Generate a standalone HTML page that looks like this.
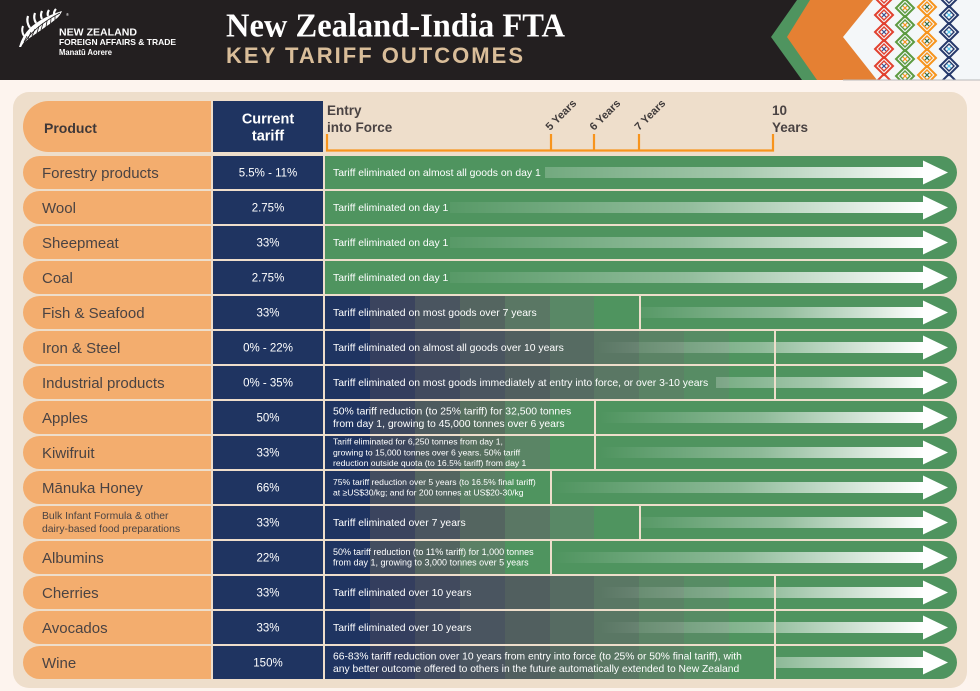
<!DOCTYPE html>
<html><head><meta charset="utf-8"><style>
html,body{margin:0;padding:0;background:#fdf4ee;}
svg{display:block;}
.p{font-family:"Liberation Sans",sans-serif;font-size:15px;fill:#4a4343;}
.ps{font-family:"Liberation Sans",sans-serif;font-size:10.4px;fill:#4a4343;}
.t{font-family:"Liberation Sans",sans-serif;font-size:11.5px;fill:#fff;text-anchor:middle;}
.l{font-family:"Liberation Sans",sans-serif;font-size:10.4px;fill:#fff;}
.l2{font-family:"Liberation Sans",sans-serif;font-size:10.3px;fill:#fff;}
.ls{font-family:"Liberation Sans",sans-serif;font-size:8.6px;fill:#fff;}
.hd{font-family:"Liberation Sans",sans-serif;font-weight:bold;font-size:13.5px;fill:#4a4343;}
.yr{font-family:"Liberation Sans",sans-serif;font-weight:bold;font-size:11px;fill:#3f3a3a;}
</style></head><body>
<svg width="980" height="691" viewBox="0 0 980 691" xmlns="http://www.w3.org/2000/svg">
<defs>
<linearGradient id="gA"><stop offset="0" stop-color="#fff" stop-opacity="0.05"/><stop offset="0.5" stop-color="#fff" stop-opacity="0.38"/><stop offset="0.8" stop-color="#fff" stop-opacity="0.74"/><stop offset="1" stop-color="#fff" stop-opacity="1"/></linearGradient>
<linearGradient id="gB"><stop offset="0" stop-color="#fff" stop-opacity="0.2"/><stop offset="0.5" stop-color="#fff" stop-opacity="0.48"/><stop offset="0.8" stop-color="#fff" stop-opacity="0.78"/><stop offset="1" stop-color="#fff" stop-opacity="1"/></linearGradient>
<linearGradient id="gC"><stop offset="0" stop-color="#fff" stop-opacity="0"/><stop offset="0.5" stop-color="#fff" stop-opacity="0.36"/><stop offset="0.8" stop-color="#fff" stop-opacity="0.74"/><stop offset="1" stop-color="#fff" stop-opacity="1"/></linearGradient>
<linearGradient id="gD"><stop offset="0" stop-color="#fff" stop-opacity="0.22"/><stop offset="0.5" stop-color="#fff" stop-opacity="0.5"/><stop offset="0.8" stop-color="#fff" stop-opacity="0.8"/><stop offset="1" stop-color="#fff" stop-opacity="1"/></linearGradient>
<linearGradient id="gE"><stop offset="0" stop-color="#fff" stop-opacity="0.35"/><stop offset="0.5" stop-color="#fff" stop-opacity="0.62"/><stop offset="0.8" stop-color="#fff" stop-opacity="0.86"/><stop offset="1" stop-color="#fff" stop-opacity="1"/></linearGradient>
<clipPath id="wclip"><polygon points="873,0 980,0 980,80 877,80 843,37"/></clipPath>
<g id="base">
<rect x="23" y="0" width="188" height="33" rx="16.5" fill="#f3ad6e"/><rect x="190" y="0" width="21" height="33" fill="#f3ad6e"/>
<rect x="213" y="0" width="110" height="33" fill="#1f3461"/>
<rect x="325" y="0" width="632" height="33" rx="16.5" fill="#4f945f"/><rect x="325" y="0" width="40" height="33" fill="#4f945f"/>
</g>
<polygon id="ah" points="923,4.5 948,16.5 923,28.5" fill="#fff"/>
<g id="s10">
<rect x="325" y="0" width="45" height="33" fill="#1f3461"/><rect x="370" y="0" width="45" height="33" fill="#343e5e"/><rect x="415" y="0" width="45" height="33" fill="#414a5e"/><rect x="460" y="0" width="45" height="33" fill="#4a5560"/><rect x="505" y="0" width="45" height="33" fill="#515f5f"/><rect x="550" y="0" width="44" height="33" fill="#566b62"/><rect x="594" y="0" width="45" height="33" fill="#5a7764"/><rect x="639" y="0" width="45" height="33" fill="#5b8365"/><rect x="684" y="0" width="45" height="33" fill="#578c64"/><rect x="729" y="0" width="45" height="33" fill="#4f945f"/>
</g>
<g id="s7">
<rect x="325" y="0" width="45" height="33" fill="#1f3461"/><rect x="370" y="0" width="45" height="33" fill="#3b445e"/><rect x="415" y="0" width="45" height="33" fill="#4a5560"/><rect x="460" y="0" width="45" height="33" fill="#546560"/><rect x="505" y="0" width="45" height="33" fill="#5a7764"/><rect x="550" y="0" width="44" height="33" fill="#598866"/><rect x="594" y="0" width="45" height="33" fill="#4f945f"/>
</g>
<g id="s6">
<rect x="325" y="0" width="45" height="33" fill="#1f3461"/><rect x="370" y="0" width="45" height="33" fill="#3e485e"/><rect x="415" y="0" width="45" height="33" fill="#4e5b5f"/><rect x="460" y="0" width="45" height="33" fill="#58705f"/><rect x="505" y="0" width="45" height="33" fill="#5a8565"/><rect x="550" y="0" width="44" height="33" fill="#4f945f"/>
</g>
<g id="s5">
<rect x="325" y="0" width="45" height="33" fill="#1f3461"/><rect x="370" y="0" width="45" height="33" fill="#434d5f"/><rect x="415" y="0" width="45" height="33" fill="#546560"/><rect x="460" y="0" width="45" height="33" fill="#5b8065"/><rect x="505" y="0" width="45" height="33" fill="#4f945f"/>
</g>
</defs>

<rect width="980" height="691" fill="#fdf4ee"/>
<!-- header band -->
<rect width="980" height="80" fill="#231f20"/>
<polygon points="797,0 980,0 980,80 802,80 771,37" fill="#4f945f"/>
<polygon points="810,0 980,0 980,80 817,80 787,37" fill="#e58033"/>
<polygon points="873,0 980,0 980,80 877,80 843,37" fill="#f4f7f9"/>
<g clip-path="url(#wclip)" fill="none">
<g stroke="#e2412f" stroke-width="2">
<path d="M884 -11 L893 -2 L884 7 L875 -2 Z M884 6 L893 15 L884 24 L875 15 Z M884 23 L893 32 L884 41 L875 32 Z M884 40 L893 49 L884 58 L875 49 Z M884 57 L893 66 L884 75 L875 66 Z M884 74 L893 83 L884 92 L875 83 Z"/>
<path stroke-width="1.4" d="M884 10 L889 15 L884 20 L879 15 Z M884 27 L889 32 L884 37 L879 32 Z M884 44 L889 49 L884 54 L879 49 Z M884 61 L889 66 L884 71 L879 66 Z M884 -7 L889 -2 L884 3 L879 -2 Z"/>
</g>
<g stroke="#3b4f8f" stroke-width="1.2"><path d="M882 13 l4 4 m0 -4 l-4 4 M882 30 l4 4 m0 -4 l-4 4 M882 47 l4 4 m0 -4 l-4 4 M882 64 l4 4 m0 -4 l-4 4"/></g>
<g stroke="#5d9b41" stroke-width="2">
<path d="M905 -18 L914 -9 L905 0 L896 -9 Z M905 -1 L914 8 L905 17 L896 8 Z M905 16 L914 25 L905 34 L896 25 Z M905 33 L914 42 L905 51 L896 42 Z M905 50 L914 59 L905 68 L896 59 Z M905 67 L914 76 L905 85 L896 76 Z"/>
<path stroke-width="1.4" d="M905 3 L910 8 L905 13 L900 8 Z M905 20 L910 25 L905 30 L900 25 Z M905 37 L910 42 L905 47 L900 42 Z M905 54 L910 59 L905 64 L900 59 Z M905 71 L910 76 L905 81 L900 76 Z"/>
</g>
<g stroke="#f7941d" stroke-width="1.2"><path d="M903 6 l4 4 m0 -4 l-4 4 M903 23 l4 4 m0 -4 l-4 4 M903 40 l4 4 m0 -4 l-4 4 M903 57 l4 4 m0 -4 l-4 4 M903 74 l4 4 m0 -4 l-4 4"/></g>
<g stroke="#f7941d" stroke-width="2">
<path d="M927 -19 L936 -10 L927 -1 L918 -10 Z M927 -2 L936 7 L927 16 L918 7 Z M927 15 L936 24 L927 33 L918 24 Z M927 32 L936 41 L927 50 L918 41 Z M927 49 L936 58 L927 67 L918 58 Z M927 66 L936 75 L927 84 L918 75 Z"/>
<path stroke-width="1.4" d="M927 2 L932 7 L927 12 L922 7 Z M927 19 L932 24 L927 29 L922 24 Z M927 36 L932 41 L927 46 L922 41 Z M927 53 L932 58 L927 63 L922 58 Z M927 70 L932 75 L927 80 L922 75 Z"/>
</g>
<g stroke="#2d6b4a" stroke-width="1.2"><path d="M925 5 l4 4 m0 -4 l-4 4 M925 22 l4 4 m0 -4 l-4 4 M925 39 l4 4 m0 -4 l-4 4 M925 56 l4 4 m0 -4 l-4 4 M925 73 l4 4 m0 -4 l-4 4"/></g>
<g stroke="#26396b" stroke-width="2">
<path d="M949 -11 L958 -2 L949 7 L940 -2 Z M949 6 L958 15 L949 24 L940 15 Z M949 23 L958 32 L949 41 L940 32 Z M949 40 L958 49 L949 58 L940 49 Z M949 57 L958 66 L949 75 L940 66 Z M949 74 L958 83 L949 92 L940 83 Z"/>
<path stroke-width="1.4" d="M949 10 L954 15 L949 20 L944 15 Z M949 27 L954 32 L949 37 L944 32 Z M949 44 L954 49 L949 54 L944 49 Z M949 61 L954 66 L949 71 L944 66 Z M949 -7 L954 -2 L949 3 L944 -2 Z"/>
</g>
<g stroke="#57c5ec" stroke-width="1.2"><path d="M947 13 l4 4 m0 -4 l-4 4 M947 30 l4 4 m0 -4 l-4 4 M947 47 l4 4 m0 -4 l-4 4 M947 64 l4 4 m0 -4 l-4 4"/></g>
</g>
<rect x="843" y="79.5" width="137" height="1" fill="#b9b9b9"/>

<!-- logo fern -->
<path d="M19 47 Q22 36 30 28 Q42 17 62 11 Q60 16 56 19 Q50 24 44 28 Q37 33 31 37 Q25 41 21 47 Z" fill="#fff"/>
<path d="M30 28 Q26 22 28 16 M36 23 Q33 18 35 13 M42 19 Q40 15 42 11 M48 16 Q47 13 49 10 M54 14 Q54 11 56 9" stroke="#fff" stroke-width="2.2" fill="none"/>
<path d="M24 36 Q21 31 23 26" stroke="#fff" stroke-width="2" fill="none"/>
<g stroke="#231f20" stroke-width="0.8" fill="none">
<path d="M27 36 L24 42 M31 32 L28 39 M35 29 L32 36 M39 26 L37 33 M43 23 L41 30 M47 21 L46 27 M51 18.5 L50.5 24 M55 16 L55 21"/>
<path d="M22 46 Q33 27 60 13"/>
</g>
<text x="66" y="16" font-family="Liberation Sans" font-size="4" fill="#fff">®</text>
<text x="59" y="35.5" font-family="Liberation Sans" font-weight="bold" font-size="10.5" fill="#fff" textLength="78" lengthAdjust="spacingAndGlyphs">NEW ZEALAND</text>
<text x="59" y="45" font-family="Liberation Sans" font-weight="bold" font-size="8.3" fill="#fff" textLength="117" lengthAdjust="spacingAndGlyphs">FOREIGN AFFAIRS &amp; TRADE</text>
<text x="59" y="55" font-family="Liberation Sans" font-weight="bold" font-size="7.8" fill="#fff" textLength="53" lengthAdjust="spacingAndGlyphs">Manatū Aorere</text>

<!-- title -->
<text x="226" y="36.5" font-family="Liberation Serif" font-weight="bold" font-size="34" fill="#fff" textLength="339" lengthAdjust="spacingAndGlyphs">New Zealand-India FTA</text>
<text x="226" y="63" font-family="Liberation Sans" font-weight="bold" font-size="22" fill="#d9bd99" textLength="297" lengthAdjust="spacing">KEY TARIFF OUTCOMES</text>

<!-- panel -->
<rect x="13" y="92" width="954" height="596" rx="16" fill="#eedecb"/>

<!-- header row -->
<rect x="23" y="101" width="188" height="51" rx="25.5" fill="#f3ad6e"/><rect x="180" y="101" width="31" height="51" fill="#f3ad6e"/>
<rect x="213" y="101" width="110" height="51" fill="#1f3461"/>
<text x="44" y="133" font-family="Liberation Sans" font-weight="bold" font-size="14" fill="#3f3838">Product</text>
<text x="268" y="123.5" font-family="Liberation Sans" font-weight="bold" font-size="14.5" fill="#fff" text-anchor="middle">Current</text>
<text x="268" y="140.5" font-family="Liberation Sans" font-weight="bold" font-size="14.5" fill="#fff" text-anchor="middle">tariff</text>
<text x="327" y="115" class="hd">Entry</text>
<text x="327" y="132" class="hd">into Force</text>
<text x="772" y="115" class="hd">10</text>
<text x="772" y="132" class="hd">Years</text>
<text class="yr" transform="translate(550,131) rotate(-45)">5 Years</text>
<text class="yr" transform="translate(594,131) rotate(-45)">6 Years</text>
<text class="yr" transform="translate(639,131) rotate(-45)">7 Years</text>
<path d="M327 134 V150.5 H773 V134 M551 134 V150.5 M594 134 V150.5 M639 134 V150.5" stroke="#f7941d" stroke-width="2.2" fill="none"/>

<!-- Row 0 Forestry -->
<g transform="translate(0,156)">
<use href="#base"/>
<rect x="545" y="11" width="378" height="11" fill="url(#gB)"/>
<use href="#ah"/>
<text x="42" y="22" class="p">Forestry products</text>
<text x="268" y="20.5" class="t">5.5% - 11%</text>
<text x="333" y="20" class="l">Tariff eliminated on almost all goods on day 1</text>
</g>
<!-- Row 1 Wool -->
<g transform="translate(0,191)">
<use href="#base"/>
<rect x="450" y="11" width="473" height="11" fill="url(#gA)"/>
<use href="#ah"/>
<text x="42" y="22" class="p">Wool</text>
<text x="268" y="20.5" class="t">2.75%</text>
<text x="333" y="20" class="l">Tariff eliminated on day 1</text>
</g>
<!-- Row 2 Sheepmeat -->
<g transform="translate(0,226)">
<use href="#base"/>
<rect x="450" y="11" width="473" height="11" fill="url(#gA)"/>
<use href="#ah"/>
<text x="42" y="22" class="p">Sheepmeat</text>
<text x="268" y="20.5" class="t">33%</text>
<text x="333" y="20" class="l">Tariff eliminated on day 1</text>
</g>
<!-- Row 3 Coal -->
<g transform="translate(0,261)">
<use href="#base"/>
<rect x="450" y="11" width="473" height="11" fill="url(#gA)"/>
<use href="#ah"/>
<text x="42" y="22" class="p">Coal</text>
<text x="268" y="20.5" class="t">2.75%</text>
<text x="333" y="20" class="l">Tariff eliminated on day 1</text>
</g>
<!-- Row 4 Fish -->
<g transform="translate(0,296)">
<use href="#base"/>
<use href="#s7"/>
<rect x="641" y="11" width="282" height="11" fill="url(#gA)"/>
<rect x="639" y="0" width="2" height="33" fill="#eedecb"/>
<use href="#ah"/>
<text x="42" y="22" class="p">Fish &amp; Seafood</text>
<text x="268" y="20.5" class="t">33%</text>
<text x="333" y="20" class="l">Tariff eliminated on most goods over 7 years</text>
</g>
<!-- Row 5 Iron -->
<g transform="translate(0,331)">
<use href="#base"/>
<use href="#s10"/>
<rect x="597" y="11" width="326" height="11" fill="url(#gC)"/>
<rect x="774" y="0" width="2" height="33" fill="#eedecb"/>
<use href="#ah"/>
<text x="42" y="22" class="p">Iron &amp; Steel</text>
<text x="268" y="20.5" class="t">0% - 22%</text>
<text x="333" y="20" class="l">Tariff eliminated on almost all goods over 10 years</text>
</g>
<!-- Row 6 Industrial -->
<g transform="translate(0,366)">
<use href="#base"/>
<use href="#s10"/>
<rect x="716" y="11" width="207" height="11" fill="url(#gD)"/>
<rect x="774" y="0" width="2" height="33" fill="#eedecb"/>
<use href="#ah"/>
<text x="42" y="22" class="p">Industrial products</text>
<text x="268" y="20.5" class="t">0% - 35%</text>
<text x="333" y="20" class="l">Tariff eliminated on most goods immediately at entry into force, or over 3-10 years</text>
</g>
<!-- Row 7 Apples -->
<g transform="translate(0,401)">
<use href="#base"/>
<use href="#s6"/>
<rect x="600" y="11" width="323" height="11" fill="url(#gC)"/>
<rect x="594" y="0" width="2" height="33" fill="#eedecb"/>
<use href="#ah"/>
<text x="42" y="22" class="p">Apples</text>
<text x="268" y="20.5" class="t">50%</text>
<text x="333" y="13.5" class="l">50% tariff reduction (to 25% tariff) for 32,500 tonnes</text>
<text x="333" y="26" class="l">from day 1, growing to 45,000 tonnes over 6 years</text>
</g>
<!-- Row 8 Kiwifruit -->
<g transform="translate(0,436)">
<use href="#base"/>
<use href="#s6"/>
<rect x="600" y="11" width="323" height="11" fill="url(#gC)"/>
<rect x="594" y="0" width="2" height="33" fill="#eedecb"/>
<use href="#ah"/>
<text x="42" y="22" class="p">Kiwifruit</text>
<text x="268" y="20.5" class="t">33%</text>
<text x="333" y="8.7" class="ls">Tariff eliminated for 6,250 tonnes from day 1,</text>
<text x="333" y="19.3" class="ls">growing to 15,000 tonnes over 6 years. 50% tariff</text>
<text x="333" y="29.8" class="ls">reduction outside quota (to 16.5% tariff) from day 1</text>
</g>
<!-- Row 9 Manuka -->
<g transform="translate(0,471)">
<use href="#base"/>
<use href="#s5"/>
<rect x="553" y="11" width="370" height="11" fill="url(#gC)"/>
<rect x="550" y="0" width="2" height="33" fill="#eedecb"/>
<use href="#ah"/>
<text x="42" y="22" class="p">Mānuka Honey</text>
<text x="268" y="20.5" class="t">66%</text>
<text x="333" y="13.8" class="ls">75% tariff reduction over 5 years (to 16.5% final tariff)</text>
<text x="333" y="24.4" class="ls">at ≥US$30/kg; and for 200 tonnes at US$20-30/kg</text>
</g>
<!-- Row 10 Bulk -->
<g transform="translate(0,506)">
<use href="#base"/>
<use href="#s7"/>
<rect x="641" y="11" width="282" height="11" fill="url(#gA)"/>
<rect x="639" y="0" width="2" height="33" fill="#eedecb"/>
<use href="#ah"/>
<text x="42" y="13" class="ps">Bulk Infant Formula &amp; other</text>
<text x="42" y="26" class="ps">dairy-based food preparations</text>
<text x="268" y="20.5" class="t">33%</text>
<text x="333" y="20" class="l">Tariff eliminated over 7 years</text>
</g>
<!-- Row 11 Albumins -->
<g transform="translate(0,541)">
<use href="#base"/>
<use href="#s5"/>
<rect x="553" y="11" width="370" height="11" fill="url(#gC)"/>
<rect x="550" y="0" width="2" height="33" fill="#eedecb"/>
<use href="#ah"/>
<text x="42" y="22" class="p">Albumins</text>
<text x="268" y="20.5" class="t">22%</text>
<text x="333" y="14" class="ls" style="font-size:9px">50% tariff reduction (to 11% tariff) for 1,000 tonnes</text>
<text x="333" y="24.6" class="ls" style="font-size:9px">from day 1, growing to 3,000 tonnes over 5 years</text>
</g>
<!-- Row 12 Cherries -->
<g transform="translate(0,576)">
<use href="#base"/>
<use href="#s10"/>
<rect x="600" y="11" width="323" height="11" fill="url(#gC)"/>
<rect x="774" y="0" width="2" height="33" fill="#eedecb"/>
<use href="#ah"/>
<text x="42" y="22" class="p">Cherries</text>
<text x="268" y="20.5" class="t">33%</text>
<text x="333" y="20" class="l">Tariff eliminated over 10 years</text>
</g>
<!-- Row 13 Avocados -->
<g transform="translate(0,611)">
<use href="#base"/>
<use href="#s10"/>
<rect x="600" y="11" width="323" height="11" fill="url(#gC)"/>
<rect x="774" y="0" width="2" height="33" fill="#eedecb"/>
<use href="#ah"/>
<text x="42" y="22" class="p">Avocados</text>
<text x="268" y="20.5" class="t">33%</text>
<text x="333" y="20" class="l">Tariff eliminated over 10 years</text>
</g>
<!-- Row 14 Wine -->
<g transform="translate(0,646)">
<use href="#base"/>
<use href="#s10"/>
<rect x="776" y="11" width="147" height="11" fill="url(#gE)"/>
<rect x="774" y="0" width="2" height="33" fill="#eedecb"/>
<use href="#ah"/>
<text x="42" y="22" class="p">Wine</text>
<text x="268" y="20.5" class="t">150%</text>
<text x="333" y="13.3" class="l2">66-83% tariff reduction over 10 years from entry into force (to 25% or 50% final tariff), with</text>
<text x="333" y="26" class="l2">any better outcome offered to others in the future automatically extended to New Zealand</text>
</g>
</svg>
</body></html>
